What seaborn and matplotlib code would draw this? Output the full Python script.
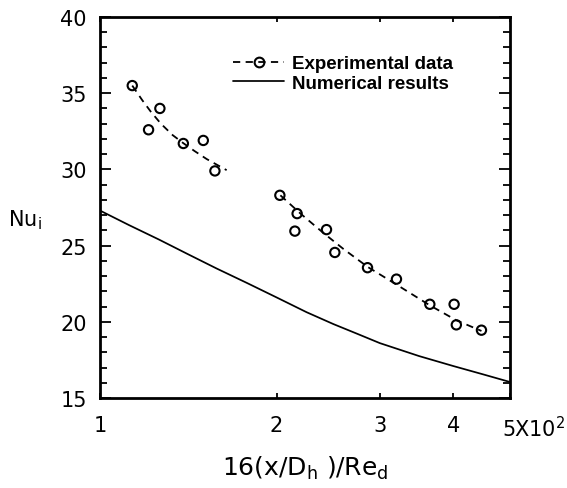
import numpy as np
import pandas as pd
import matplotlib
matplotlib.use("Agg")
import matplotlib.pyplot as plt
import matplotlib.transforms as mtransforms
from matplotlib.lines import Line2D
from matplotlib.ticker import FixedLocator, FixedFormatter, MultipleLocator, NullLocator
import seaborn as sns

# ---- data ----
exp1_x = [1.135, 1.210, 1.265, 1.387, 1.500, 1.570]
exp1_y = [35.5, 32.6, 34.0, 31.7, 31.9, 29.9]
exp2_x = [2.026, 2.168, 2.149, 2.433, 2.514, 2.858, 3.202, 3.650, 4.015, 4.050, 4.470]
exp2_y = [28.3, 27.1, 25.95, 26.05, 24.55, 23.55, 22.8, 21.15, 21.15, 19.8, 19.45]

fit1_x = [1.135, 1.18, 1.22, 1.27, 1.33, 1.387, 1.45, 1.52, 1.644]
fit1_y = [35.5, 34.55, 33.8, 33.0, 32.25, 31.72, 31.2, 30.68, 29.95]
fit2_x = [2.03, 2.2, 2.4, 2.6, 2.86, 3.2, 3.65, 4.05, 4.47]
fit2_y = [28.3, 27.08, 25.85, 24.78, 23.6, 22.45, 21.08, 20.1, 19.4]

num_x = [1.0, 1.12, 1.26, 1.41, 1.58, 1.78, 2.0, 2.25, 2.5, 2.75, 3.0, 3.5, 4.0, 4.5, 5.0]
num_y = [27.3, 26.35, 25.4, 24.45, 23.5, 22.55, 21.6, 20.63, 19.85, 19.2, 18.6,
         17.75, 17.1, 16.55, 16.05]

x_ticks = [1, 2, 3, 4, 5]
x_ticklabels = ["1", "2", "3", "4", "5X10$^2$"]
y_ticks = [15, 20, 25, 30, 35, 40]

legend_labels = ["Experimental data", "Numerical results"]

# ---- style ----
sns.set_style("ticks")
plt.rcParams["font.family"] = ["DejaVu Sans"]
plt.rcParams["mathtext.fontset"] = "dejavusans"
for k in ["text.color", "axes.labelcolor", "xtick.color", "ytick.color",
          "xtick.labelcolor", "ytick.labelcolor"]:
    plt.rcParams[k] = "black"

fig = plt.figure(figsize=(5.67, 4.89), dpi=100)
ax = fig.add_axes([100 / 567, 1 - 399 / 489, 410 / 567, 381 / 489])
ax.set_xscale("log")

dash = (4, 3)
sns.lineplot(x=fit1_x, y=fit1_y, ax=ax, color="black", lw=1.3, sort=False,
             estimator=None)
ax.lines[-1].set_dashes(dash)
sns.lineplot(x=fit2_x, y=fit2_y, ax=ax, color="black", lw=1.3, sort=False,
             estimator=None)
ax.lines[-1].set_dashes(dash)
sns.lineplot(x=num_x, y=num_y, ax=ax, color="black", lw=1.25, sort=False,
             estimator=None)
sns.scatterplot(x=exp1_x + exp2_x, y=exp1_y + exp2_y, ax=ax, marker="o",
                s=45, facecolor="none", edgecolor="black", linewidth=1.5,
                zorder=5)

ax.set_xlim(1, 5)
ax.set_ylim(15, 40)

ax.xaxis.set_major_locator(FixedLocator(x_ticks))
ax.xaxis.set_major_formatter(FixedFormatter(x_ticklabels))
ax.xaxis.set_minor_locator(NullLocator())
ax.yaxis.set_major_locator(FixedLocator(y_ticks))
ax.yaxis.set_minor_locator(MultipleLocator(1))

ax.tick_params(axis="both", which="both", direction="in", top=True, right=True,
               color="black", labelcolor="black", width=1.3)
ax.tick_params(axis="y", which="major", length=8, labelsize=15, pad=9.5)
ax.tick_params(axis="y", which="minor", length=5)
ax.tick_params(axis="x", which="major", length=3.5, labelsize=15, pad=12)

for sp in ax.spines.values():
    sp.set_linewidth(2.0)
    sp.set_color("black")

# "5X10^2" label starts just left of its tick
lab = ax.get_xticklabels()[-1]
lab.set_horizontalalignment("left")
lab.set_transform(lab.get_transform() + mtransforms.ScaledTranslation(-8 / 100, 0, fig.dpi_scale_trans))

ax.set_xlabel("16(x/D$_\\mathrm{h}$ )/Re$_\\mathrm{d}$", fontsize=18, labelpad=10,
              color="black")
ax.set_ylabel("Nu$_\\mathrm{i}$", fontsize=15, rotation=0, ha="center", va="center",
              color="black")
ax.yaxis.set_label_coords(-0.183, 0.47)

handles = [
    Line2D([], [], color="black", lw=1.3, ls=(0, dash), marker="o", ms=7,
           mfc="none", mec="black", mew=1.5),
    Line2D([], [], color="black", lw=1.25),
]
leg = ax.legend(handles, legend_labels, loc="upper left", bbox_to_anchor=(0.325, 0.90),
                frameon=False, handlelength=2.7, handletextpad=0.45,
                borderaxespad=0, borderpad=0, labelspacing=0.12,
                prop={"family": "Liberation Sans", "weight": "bold", "size": 13.5})
for t in leg.get_texts():
    t.set_color("black")

fig.savefig("out.png", dpi=100)
